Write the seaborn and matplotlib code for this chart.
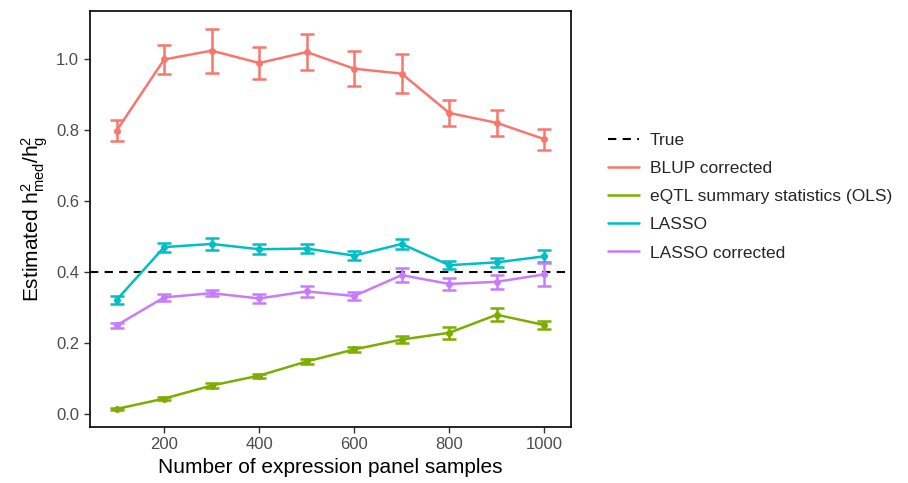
import matplotlib
matplotlib.use("Agg")
import matplotlib.pyplot as plt
from matplotlib.lines import Line2D
import pandas as pd
import seaborn as sns

samples = [100, 200, 300, 400, 500, 600, 700, 800, 900, 1000]
methods = ["BLUP corrected", "eQTL summary statistics (OLS)", "LASSO", "LASSO corrected"]
colors = ["#F8766D", "#7CAE00", "#00BFC4", "#C77CFF"]

blup = [0.799, 1.000, 1.025, 0.990, 1.021, 0.974, 0.960, 0.849, 0.821, 0.775]
blup_se = [0.030, 0.040, 0.062, 0.044, 0.052, 0.050, 0.055, 0.036, 0.036, 0.030]
ols = [0.013, 0.042, 0.079, 0.107, 0.147, 0.181, 0.209, 0.228, 0.279, 0.250]
ols_se = [0.004, 0.005, 0.006, 0.006, 0.008, 0.008, 0.009, 0.017, 0.019, 0.012]
lasso = [0.321, 0.470, 0.479, 0.464, 0.466, 0.446, 0.479, 0.419, 0.427, 0.444]
lasso_se = [0.012, 0.013, 0.017, 0.014, 0.012, 0.013, 0.015, 0.012, 0.012, 0.017]
lasso_c = [0.249, 0.328, 0.340, 0.325, 0.345, 0.332, 0.391, 0.366, 0.372, 0.393]
lasso_c_se = [0.008, 0.010, 0.008, 0.013, 0.015, 0.010, 0.020, 0.016, 0.019, 0.032]
true_value = 0.4

sns.set_theme(style="ticks")
plt.rcParams["font.family"] = ["Liberation Sans", "DejaVu Sans"]
plt.rcParams["mathtext.default"] = "regular"

values = [blup, ols, lasso, lasso_c]
errors = [blup_se, ols_se, lasso_se, lasso_c_se]
rows = []
for m, v, e in zip(methods, values, errors):
    for s, y, se in zip(samples, v, e):
        rows.append({"samples": s, "est": y, "se": se, "method": m})
df = pd.DataFrame(rows)

fig = plt.figure(figsize=(9.08, 4.83), dpi=100)
ax = fig.add_axes([0.0986, 0.116, 0.5306, 0.862])

ax.axhline(true_value, color="black", ls=(0, (4, 3)), lw=1.5, zorder=1)
sns.lineplot(data=df, x="samples", y="est", hue="method", hue_order=methods,
             palette=colors, marker="o", markersize=5, markeredgewidth=0,
             lw=1.8, legend=False, ax=ax, zorder=3)
for m, c in zip(methods, colors):
    sub = df[df["method"] == m]
    ax.errorbar(sub["samples"], sub["est"], yerr=sub["se"], fmt="none",
                ecolor=c, elinewidth=1.8, capsize=5, capthick=1.8, zorder=3)

ax.set_xlim(43, 1057)
ax.set_ylim(-0.038, 1.138)
ax.set_xticks([200, 400, 600, 800, 1000])
ax.set_yticks([0.0, 0.2, 0.4, 0.6, 0.8, 1.0])
ax.set_yticklabels(["0.0", "0.2", "0.4", "0.6", "0.8", "1.0"])
ax.tick_params(labelsize=12, colors="#333333", labelcolor="#4D4D4D", width=1, length=4)
for sp in ax.spines.values():
    sp.set_visible(True)
    sp.set_color("black")
    sp.set_linewidth(1.2)
ax.set_xlabel("Number of expression panel samples", fontsize=15, color="black")
ax.set_ylabel(r"Estimated $h^2_{med}/h^2_g$", fontsize=15, color="black")

handles = [Line2D([], [], color="black", ls=(0, (4, 3)), lw=1.5)]
handles += [Line2D([], [], color=c, lw=1.8) for c in colors]
fig.legend(handles, ["True"] + methods, loc="center left",
           bbox_to_anchor=(0.652, 0.593), frameon=False, fontsize=12.5,
           handlelength=1.8, labelspacing=0.75, handletextpad=0.63)

fig.savefig("out.png", dpi=100)
